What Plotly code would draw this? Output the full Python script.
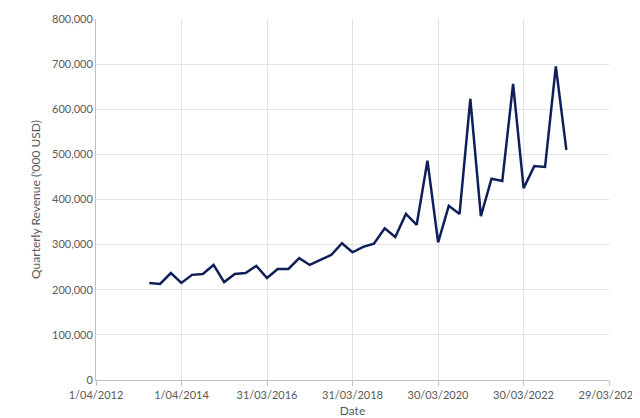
import plotly.graph_objects as go
import pandas as pd

dates = pd.date_range("2013-06-30", periods=40, freq="QE")
revenue = [215000, 213000, 237000, 215000, 233000, 235000, 255000, 217000, 235000, 237000,
           253000, 226000, 246000, 246000, 270000, 255000, 266000, 277000, 303000, 283000,
           295000, 302000, 336000, 317000, 368000, 344000, 486000, 305000, 386000, 368000,
           623000, 363000, 446000, 441000, 656000, 425000, 474000, 472000, 695000, 510000]

tick_dates = ["2012-04-01", "2014-04-01", "2016-03-31", "2018-03-31",
              "2020-03-30", "2022-03-30", "2024-03-29"]
tick_text = ["1/04/2012", "1/04/2014", "31/03/2016", "31/03/2018",
             "30/03/2020", "30/03/2022", "29/03/2024"]

fig = go.Figure(go.Scatter(x=dates, y=revenue, mode="lines",
                           line=dict(color="#0f1f5a", width=2.5)))

fig.update_layout(
    width=640, height=418,
    margin=dict(l=88, r=39, t=11, b=46, autoexpand=False),
    plot_bgcolor="white", paper_bgcolor="white",
    font=dict(family="Lato, Liberation Sans", size=11, color="#595959"),
    showlegend=False,
)
fig.update_xaxes(
    range=[tick_dates[0], tick_dates[-1]], automargin=False,
    tickvals=tick_dates, ticktext=tick_text,
    showgrid=True, gridcolor="#e3e3e3",
    showline=True, linecolor="#bfbfbf", ticks="outside", tickcolor="#bfbfbf",
    title=dict(text="Date", font=dict(size=12), standoff=6),
)
fig.update_yaxes(
    range=[0, 800000], dtick=100000, tickformat=",", automargin=False,
    showgrid=True, gridcolor="#e3e3e3",
    showline=True, linecolor="#bfbfbf", zeroline=False,
    title=dict(text="Quarterly Revenue ('000 USD)", font=dict(size=12), standoff=8),
)

fig.write_html("out.html")
